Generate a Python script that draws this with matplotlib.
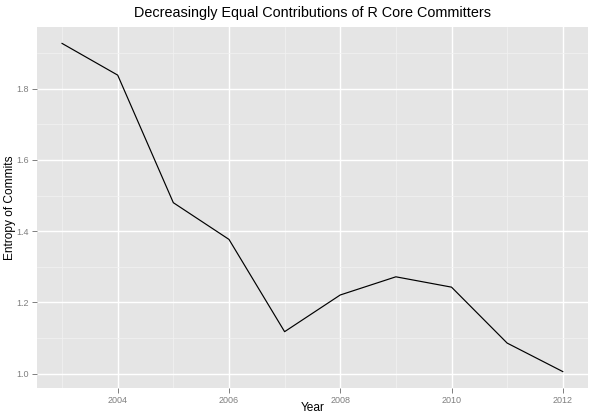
import matplotlib
matplotlib.use("Agg")
import matplotlib.pyplot as plt

plt.rcParams['font.family'] = ['Liberation Sans', 'DejaVu Sans']

years = [2003, 2004, 2005, 2006, 2007, 2008, 2009, 2010, 2011, 2012]
entropy = [1.927, 1.838, 1.480, 1.377, 1.118, 1.221, 1.272, 1.243, 1.086, 1.006]

x_ticks = [2004, 2006, 2008, 2010, 2012]
x_minor = [2003, 2005, 2007, 2009, 2011]
y_ticks = [1.0, 1.2, 1.4, 1.6, 1.8]
y_minor = [1.1, 1.3, 1.5, 1.7, 1.9]

fig = plt.figure(figsize=(6, 4.2), dpi=100)
ax = fig.add_axes([0.0617, 0.0762, 0.918, 0.8595])
ax.set_facecolor('#E5E5E5')

# margenes tipo ggplot (5% del rango)
xr = max(years) - min(years)
yr = max(entropy) - min(entropy)
ax.set_xlim(min(years) - 0.05 * xr, max(years) + 0.05 * xr)
ax.set_ylim(min(entropy) - 0.05 * yr, max(entropy) + 0.05 * yr)

ax.set_xticks(x_ticks)
ax.set_xticks(x_minor, minor=True)
ax.set_yticks(y_ticks)
ax.set_yticks(y_minor, minor=True)
ax.set_xticklabels([str(v) for v in x_ticks])
ax.set_yticklabels([f"{v:.1f}" for v in y_ticks])

ax.grid(which='major', color='white', linewidth=1.0)
ax.grid(which='minor', color='#F2F2F2', linewidth=0.5)
ax.set_axisbelow(True)

for s in ax.spines.values():
    s.set_visible(False)

ax.tick_params(which='major', length=3.5, width=0.7, color='#7F7F7F',
               labelcolor='#7F7F7F', labelsize=6.5, pad=2.5)
ax.tick_params(which='minor', length=0)

ax.plot(years, entropy, color='black', linewidth=0.85)

ax.set_title("Decreasingly Equal Contributions of R Core Committers",
             fontsize=10.4, pad=7)
ax.set_xlabel("Year", fontsize=8.6)
ax.set_ylabel("Entropy of Commits", fontsize=8.6)
ax.xaxis.set_label_coords(0.5, -0.039)
ax.yaxis.set_label_coords(-0.038, 0.5)

fig.savefig("out.png", dpi=100)
